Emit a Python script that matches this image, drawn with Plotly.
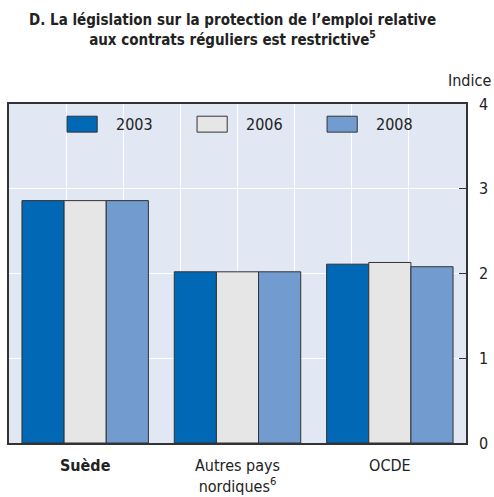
import plotly.graph_objects as go

categories = ["<b>Suède</b>", "Autres pays<br>nordiques<sup>6</sup>", "OCDE"]
years = ["2003", "2006", "2008"]
values_2003 = [2.86, 2.02, 2.11]
values_2006 = [2.86, 2.02, 2.13]
values_2008 = [2.86, 2.02, 2.08]
y_ticks = [0, 1, 2, 3, 4]

colors = ["#0068b4", "#e6e6e6", "#729ccf"]
series = [values_2003, values_2006, values_2008]

FONT = "DejaVu Sans Condensed"

fig = go.Figure()
xs = list(range(len(categories)))
for name, vals, col in zip(years, series, colors):
    fig.add_trace(go.Bar(
        x=xs, y=vals, name=name, showlegend=False,
        marker=dict(color=col, line=dict(color="#333333", width=1)),
    ))

# invisible trace to carry the secondary x axis for vertical grid
fig.add_trace(go.Scatter(x=[0, 8], y=[0, 0], xaxis="x2", mode="markers",
                         marker=dict(opacity=0), showlegend=False, hoverinfo="skip"))

# manual legend (larger swatches, like the reference)
shapes = []
annotations = []
leg_x0 = 0.127
leg_step = 0.2845
for i, (name, col) in enumerate(zip(years, colors)):
    x0 = leg_x0 + i * leg_step
    shapes.append(dict(type="rect", xref="paper", yref="paper",
                       x0=x0, x1=x0 + 0.066, y0=0.917, y1=0.964,
                       fillcolor=col, line=dict(color="#333333", width=1)))
    annotations.append(dict(text=name, xref="paper", yref="paper",
                            x=x0 + 0.103, y=0.941, xanchor="left", yanchor="middle",
                            showarrow=False, font=dict(size=16)))

annotations.append(dict(
    text="<b>D. La législation sur la protection de l’emploi relative<br>aux contrats réguliers est restrictive<sup>5</sup></b>",
    xref="paper", yref="paper", x=0.49, y=1.218, xanchor="center", yanchor="middle",
    showarrow=False, font=dict(size=15), align="center"))
annotations.append(dict(
    text="Indice", xref="paper", yref="paper", x=1, y=1.07,
    xanchor="right", yanchor="middle", xshift=27, showarrow=False,
    font=dict(size=16)))

fig.update_layout(
    width=494, height=497,
    margin=dict(l=9, r=28, t=104, b=54),
    paper_bgcolor="white",
    plot_bgcolor="#e1e7f3",
    barmode="group",
    bargap=0.17,
    bargroupgap=0,
    showlegend=False,
    font=dict(family=FONT, size=16, color="#222222"),
    xaxis=dict(
        tickmode="array", tickvals=xs, ticktext=categories,
        range=[-0.5, 2.5], showgrid=False, zeroline=False, automargin=False,
        showline=True, linecolor="#333333", linewidth=1.5, mirror=True,
        ticks="", tickfont=dict(size=16), ticklabelstandoff=7,
    ),
    xaxis2=dict(
        overlaying="x", range=[0, 8], dtick=1, showgrid=True, automargin=False,
        gridcolor="white", gridwidth=1, showticklabels=False,
        zeroline=False, showline=False, ticks="",
    ),
    yaxis=dict(
        side="right", range=[0, 4], tickvals=y_ticks, automargin=False,
        showgrid=True, gridcolor="white", gridwidth=1, zeroline=False,
        showline=True, linecolor="#333333", linewidth=1.5, mirror=True,
        ticks="inside", ticklen=7, tickcolor="#333333",
        tickfont=dict(size=16), ticklabelstandoff=8,
    ),
    shapes=shapes,
    annotations=annotations,
)

fig.write_html("out.html", config={"displayModeBar": False},
               post_script="document.body.style.margin='0';document.body.style.overflow='hidden';")
